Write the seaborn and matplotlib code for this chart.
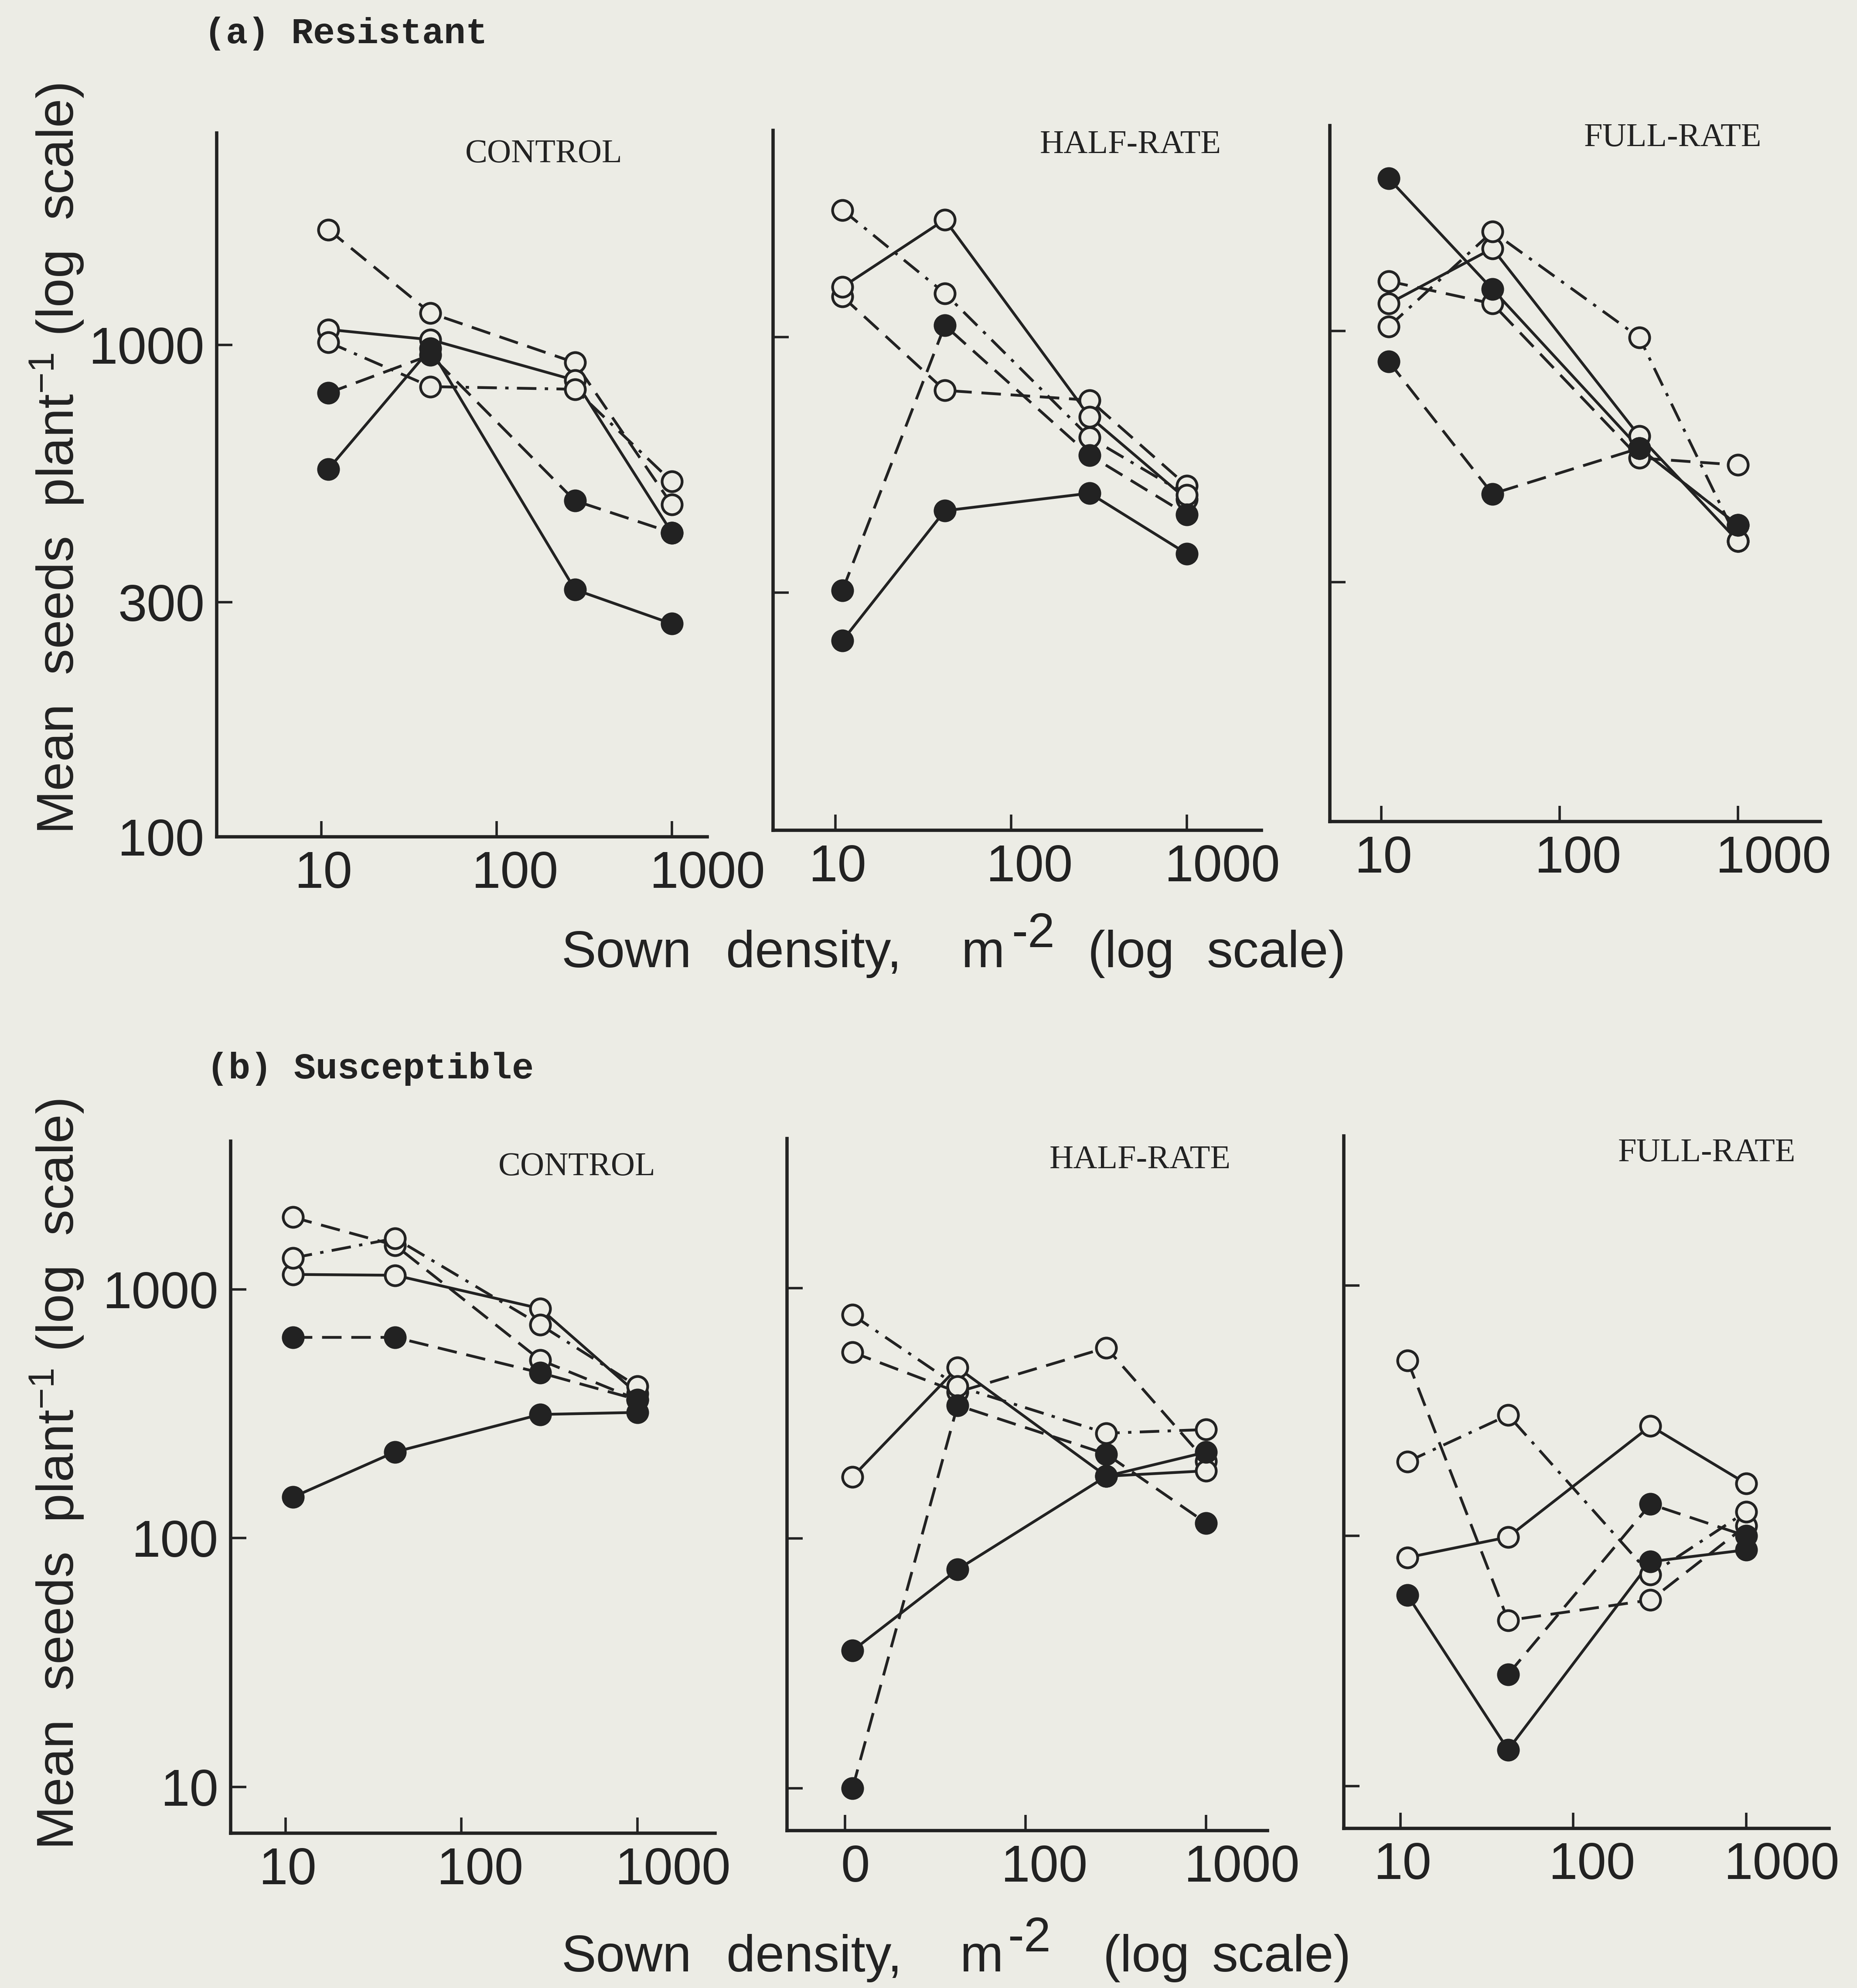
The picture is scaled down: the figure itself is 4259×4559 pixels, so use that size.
import matplotlib
matplotlib.use("Agg")
import matplotlib.pyplot as plt
from matplotlib import font_manager
from matplotlib.ticker import FixedLocator, NullLocator
from matplotlib.transforms import ScaledTranslation
import numpy as np
import pandas as pd
import seaborn as sns

# ---------------------------------------------------------------- data
density = [11, 42, 280, 1000]          # sown density, plants m-2

x_ticks = [10, 100, 1000]
x_ticklabels = ["10", "100", "1000"]
x_ticklabels_sus_half = ["0", "100", "1000"]

res_y_ticks = [100, 300, 1000]
res_y_ticklabels = ["100", "300", "1000"]
sus_y_ticks = [10, 100, 1000]
sus_y_ticklabels = ["10", "100", "1000"]

treatments = ["CONTROL", "HALF-RATE", "FULL-RATE"]

# Mean seeds per plant. Rows in every panel:
# open/dashed, open/solid, open/dash-dot, filled/dashed, filled/solid
res_control = [
    [1714, 1160, 920, 473],
    [1074, 1024, 847, 415],
    [1012, 822, 812, 527],
    [798, 953, 482, 415],
    [559, 982, 318, 271],
]
res_half = [
    [1211, 778, 743, 496],
    [1267, 1741, 687, 465],
    [1822, 1230, 623, 475],
    [303, 1057, 573, 433],
    [239, 441, 479, 360],
]
res_full = [
    [1271, 1141, 544, 526],
    [1141, 1487, 604, 365],
    [1021, 1613, 970, 365],
    [865, 458, 570, 394],
    [2081, 1223, 570, 394],
]
sus_control = [
    [1949, 1503, 520, 360],
    [1148, 1139, 837, 380],
    [1337, 1603, 720, 407],
    [641, 641, 462, 360],
    [146, 222, 314, 320],
]
sus_half = [
    [554, 384, 578, 203],
    [176, 481, 177, 186],
    [782, 405, 263, 272],
    [10, 340, 217, 115],
    [35.5, 75, 177, 221],
]
sus_full = [
    [503, 46, 55.5, 110],
    [82, 99, 275, 162],
    [198, 304, 70, 125],
    [np.nan, 28, 134, 100],
    [58, 14, 79, 88],
]

# ---------------------------------------------------------------- style
BG = "#ecece5"
INK = "#222222"
LW = 4.6
MS = 33
MEW = 4.5
SPINE_LW = 5.5

sns.set_style("ticks")
available = {f.name for f in font_manager.fontManager.ttflist}
NARROW = "Liberation Sans Narrow" if "Liberation Sans Narrow" in available else "Liberation Sans"
plt.rcParams["font.family"] = [NARROW, "DejaVu Sans"]
plt.rcParams["mathtext.fontset"] = "custom"
plt.rcParams["mathtext.rm"] = NARROW
plt.rcParams["mathtext.it"] = NARROW
plt.rcParams["mathtext.bf"] = NARROW

LINE_STYLES = [
    dict(fill=False, ls=(0, (7, 3.5))),
    dict(fill=False, ls="-"),
    dict(fill=False, ls=(0, (7, 3, 1.2, 3))),
    dict(fill=True, ls=(0, (7, 3.5))),
    dict(fill=True, ls="-"),
]

# layout grid (figure spans W x H units)
W, H = 1465.0, 1568.0


def fx(x):
    return x / W


def fy(y):
    return 1 - y / H


panels = [
    # (series, box (left, top, right, bottom), xlim, ylim, row, column)
    (res_control, (171, 105, 558, 660), (2.54, 1592), (100, 2692), "res", 0),
    (res_half, (610, 103, 995, 655), (4.44, 2646), (97.6, 2650), "res", 1),
    (res_full, (1049, 99, 1436, 648), (5.14, 2892), (95, 2683), "res", 2),
    (sus_control, (182, 900, 564, 1446), (4.88, 2754), (6.5, 3945), "sus", 0),
    (sus_half, (621, 898, 1000, 1444), (4.78, 2188), (6.76, 3966), "sus", 1),
    (sus_full, (1060, 896, 1443, 1442), (4.7, 3020), (6.8, 3960), "sus", 2),
]

fig = plt.figure(figsize=(42.59, 45.59), dpi=100, facecolor=BG)

# horizontal nudges (points) of the density tick labels
label_shift = {"0": 17, "10": 4, "100": 31, "1000": 59}

for series, (l, t, r, b), xlim, ylim, row, col in panels:
    ax = fig.add_axes([fx(l), fy(b), fx(r) - fx(l), fy(t) - fy(b)])
    ax.set_facecolor(BG)
    ax.set_xscale("log")
    ax.set_yscale("log")

    for st, ys in zip(LINE_STYLES, series):
        df = pd.DataFrame({"density": density, "seeds": ys}).dropna()
        sns.lineplot(data=df, x="density", y="seeds", ax=ax, color=INK,
                     linewidth=LW, linestyle=st["ls"], estimator=None,
                     sort=False, errorbar=None, legend=False, zorder=2)
    for st, ys in zip(LINE_STYLES, series):
        df = pd.DataFrame({"density": density, "seeds": ys}).dropna()
        sns.lineplot(data=df, x="density", y="seeds", ax=ax, color=INK,
                     linestyle="none", marker="o", markersize=MS,
                     markerfacecolor=INK if st["fill"] else BG,
                     markeredgecolor=INK, markeredgewidth=MEW,
                     estimator=None, sort=False, errorbar=None,
                     legend=False, zorder=3)

    ax.set_xlim(*xlim)
    ax.set_ylim(*ylim)
    ax.set_xlabel("")
    ax.set_ylabel("")

    for side in ("top", "right"):
        ax.spines[side].set_visible(False)
    for side in ("left", "bottom"):
        ax.spines[side].set_linewidth(SPINE_LW)
        ax.spines[side].set_color(INK)

    ax.xaxis.set_major_locator(FixedLocator(x_ticks))
    ax.xaxis.set_minor_locator(NullLocator())
    xl = x_ticklabels_sus_half if (row == "sus" and col == 1) else x_ticklabels
    ax.set_xticklabels(xl)

    if row == "res":
        # the bottom tick sits on the axis line; only the first panel labels it
        yt = res_y_ticks if col == 0 else res_y_ticks[1:]
        ytl = res_y_ticklabels if col == 0 else res_y_ticklabels[1:]
    else:
        yt, ytl = sus_y_ticks, sus_y_ticklabels
    ax.yaxis.set_major_locator(FixedLocator(yt))
    ax.yaxis.set_minor_locator(NullLocator())
    ax.set_yticklabels(ytl)

    ax.tick_params(axis="both", which="major", direction="in", length=26,
                   width=4, color=INK, labelsize=86, labelcolor=INK,
                   labelfontfamily=NARROW)
    ax.tick_params(axis="x", pad=22)
    ax.tick_params(axis="y", pad=20, labelleft=(col == 0))

    for lab in ax.get_xticklabels():
        dx = label_shift.get(lab.get_text(), 0)
        lab.set_transform(lab.get_transform() +
                          ScaledTranslation(dx / 72, 0, fig.dpi_scale_trans))

# panel headings
heading_pos = [(429, 121.7), (891.8, 114.5), (1319.8, 108.8),
               (455, 920.7), (899.5, 915.2), (1346.4, 909.6)]
for (series, box, xlim, ylim, row, col), pos in zip(panels, heading_pos):
    fig.text(fx(pos[0]), fy(pos[1]), treatments[col], ha="center",
             va="center", fontsize=55, family="Liberation Serif", color=INK)

fig.text(fx(161), fy(26.4), "(a) Resistant", ha="left", va="center",
         fontsize=60, family="Liberation Mono", fontweight="bold", color=INK)
fig.text(fx(163), fy(843), "(b) Susceptible", ha="left", va="center",
         fontsize=60, family="Liberation Mono", fontweight="bold", color=INK)

# y-axis titles
for yc in (362, 1163):
    fig.text(fx(45), fy(yc), "Mean  seeds  plant$^{-1}$ (log  scale)",
             rotation=90, ha="center", va="center", fontsize=86,
             family=NARROW, color=INK)

# x-axis titles, set word by word
xlab_words = {
    763: ([("Sown", 443), ("density,", 572.6), ("m", 758),
           ("(log", 858), ("scale)", 952)], 798),
    1555: ([("Sown", 443), ("density,", 573), ("m", 757),
            ("(log", 870), ("scale)", 956)], 795),
}
for base, (words, sup_x) in xlab_words.items():
    for w, x0 in words:
        fig.text(fx(x0), fy(base), w, ha="left", va="baseline", fontsize=86,
                 family="Liberation Sans", color=INK)
    fig.text(fx(sup_x), fy(base - 16), "-2", ha="left", va="baseline",
             fontsize=80, family="Liberation Sans", color=INK)

fig.savefig("out.png", dpi=100, facecolor=BG)
